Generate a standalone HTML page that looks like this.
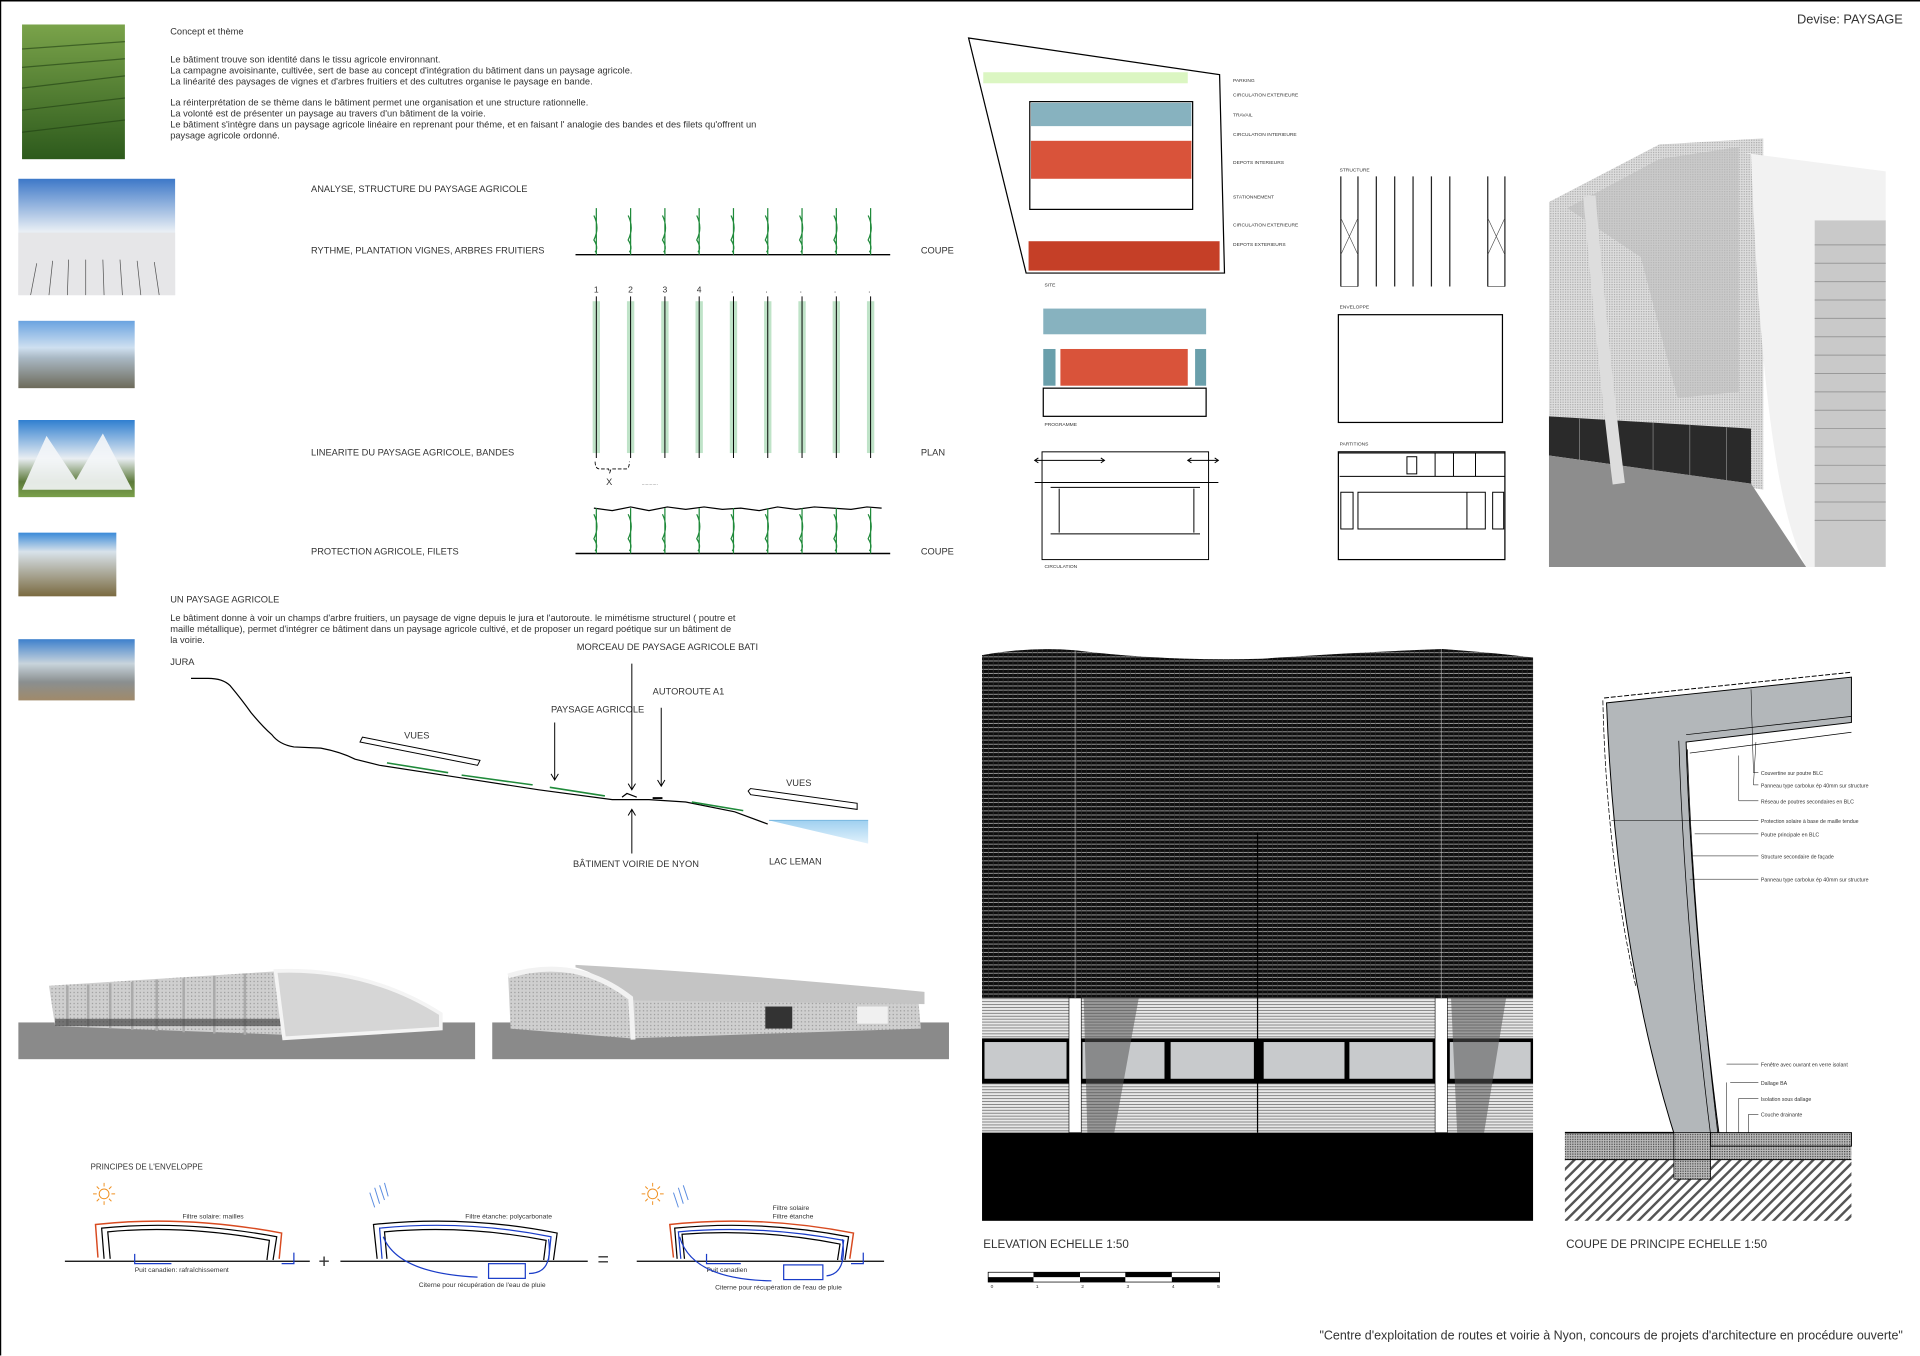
<!DOCTYPE html>
<html><head><meta charset="utf-8"><style>
html,body{margin:0;padding:0;background:#fff;}
svg{display:block;}
text{font-family:"Liberation Sans",sans-serif;fill:#333;}
</style></head><body>
<svg width="1920" height="1356" viewBox="0 0 1568 1107.4" preserveAspectRatio="none" xmlns="http://www.w3.org/2000/svg">
<defs>
<linearGradient id="sky" x1="0" y1="0" x2="0" y2="1"><stop offset="0" stop-color="#3d78c8"/><stop offset="0.45" stop-color="#e8eef4"/><stop offset="1" stop-color="#c9ccd0"/></linearGradient>
<linearGradient id="vine" x1="0" y1="0" x2="0" y2="1"><stop offset="0" stop-color="#7aa34a"/><stop offset="1" stop-color="#2d5a1c"/></linearGradient>
<linearGradient id="sky2" x1="0" y1="0" x2="0" y2="1"><stop offset="0" stop-color="#6aa3e0"/><stop offset="0.4" stop-color="#cfe0f0"/><stop offset="0.55" stop-color="#a9b8c4"/><stop offset="1" stop-color="#6d6a5a"/></linearGradient>
<linearGradient id="sky3" x1="0" y1="0" x2="0" y2="1"><stop offset="0" stop-color="#2f7fd0"/><stop offset="0.5" stop-color="#e9eef2"/><stop offset="0.8" stop-color="#5c7a3a"/><stop offset="1" stop-color="#7aa04a"/></linearGradient>
<linearGradient id="sky4" x1="0" y1="0" x2="0" y2="1"><stop offset="0" stop-color="#3a8ad8"/><stop offset="0.3" stop-color="#d8e2ea"/><stop offset="1" stop-color="#7a6a40"/></linearGradient>
<linearGradient id="sky5" x1="0" y1="0" x2="0" y2="1"><stop offset="0" stop-color="#3d80cc"/><stop offset="0.4" stop-color="#c8d4dc"/><stop offset="0.7" stop-color="#8a8f90"/><stop offset="1" stop-color="#a08a6a"/></linearGradient>
<linearGradient id="lake" x1="0" y1="0" x2="0" y2="1"><stop offset="0" stop-color="#9fd0f0"/><stop offset="1" stop-color="#e2f2fc"/></linearGradient>
<pattern id="mesh" width="4" height="3.4" patternUnits="userSpaceOnUse"><rect width="4" height="3.4" fill="#0c0c0c"/><rect y="2.2" width="4" height="0.8" fill="#999"/><rect x="3" width="0.5" height="3.4" fill="#333"/></pattern>
<pattern id="clad" width="4" height="2.4" patternUnits="userSpaceOnUse"><rect width="4" height="2.4" fill="#e8e8e8"/><rect y="1.6" width="4" height="0.6" fill="#666"/></pattern>
<pattern id="hatch" width="6" height="6" patternUnits="userSpaceOnUse" patternTransform="rotate(45)"><rect width="6" height="6" fill="#fff"/><rect width="2" height="6" fill="#555"/></pattern>
<pattern id="dots" width="2" height="2" patternUnits="userSpaceOnUse"><rect width="2" height="2" fill="#bbb"/><rect width="1" height="1" fill="#444"/></pattern>
<pattern id="render" width="3" height="3" patternUnits="userSpaceOnUse"><rect width="3" height="3" fill="#cfcfcf"/><rect width="1" height="1" fill="#999"/></pattern>
<pattern id="render2" width="2" height="2" patternUnits="userSpaceOnUse"><rect width="2" height="2" fill="#dedede"/><rect width="1" height="1" fill="#aaa"/></pattern>
</defs>

<line x1="0" y1="0.5" x2="1568" y2="0.5" stroke="#000" stroke-width="1.5"/>
<line x1="0.5" y1="0" x2="0.5" y2="1107" stroke="#000" stroke-width="1"/>

<!-- photos -->
<rect x="18" y="20" width="84" height="110" fill="url(#vine)"/>
<g stroke="#1f3f12" stroke-width="1" opacity="0.6"><path d="M18 40 L102 34 M18 55 L102 48 M18 72 L102 62 M18 90 L102 80 M18 108 L102 98"/></g>
<rect x="15" y="146" width="128" height="95" fill="url(#sky)"/>
<rect x="15" y="190" width="128" height="51" fill="#e6e6e8"/>
<g stroke="#555" stroke-width="0.6"><path d="M25 241 L30 215 M40 241 L43 213 M55 241 L56 212 M70 241 L70 212 M85 241 L84 212 M100 241 L98 212 M115 241 L112 213 M130 241 L126 214"/></g>
<rect x="15" y="262" width="95" height="55" fill="url(#sky2)"/>
<rect x="15" y="343" width="95" height="63" fill="url(#sky3)"/>
<path d="M18 400 L38 356 L62 392 L84 354 L108 400 Z" fill="#f4f6f8" opacity="0.9"/>
<rect x="15" y="435" width="80" height="52" fill="url(#sky4)"/>
<rect x="15" y="522" width="95" height="50" fill="url(#sky5)"/>

<g font-size="7.6">
<text x="139" y="28">Concept et thème</text>
<text x="139" y="51">Le bâtiment trouve son identité dans le tissu agricole environnant.</text>
<text x="139" y="60">La campagne avoisinante, cultivée, sert de base au concept d'intégration du bâtiment dans un paysage agricole.</text>
<text x="139" y="69">La linéarité des paysages de vignes et d'arbres fruitiers et des cultutres organise le paysage en bande.</text>
<text x="139" y="86">La réinterprétation de se thème dans le bâtiment permet une organisation et une structure rationnelle.</text>
<text x="139" y="95">La volonté est de présenter un paysage au travers d'un bâtiment de la voirie.</text>
<text x="139" y="104">Le bâtiment s'intègre dans un paysage agricole linéaire en reprenant pour théme, et en faisant l' analogie des bandes et des filets qu'offrent un</text>
<text x="139" y="113">paysage agricole ordonné.</text>
<text x="254" y="157">ANALYSE, STRUCTURE DU PAYSAGE AGRICOLE</text>
<text x="254" y="207">RYTHME, PLANTATION VIGNES, ARBRES FRUITIERS</text>
<text x="254" y="372">LINEARITE DU PAYSAGE AGRICOLE, BANDES</text>
<text x="254" y="453">PROTECTION AGRICOLE, FILETS</text>
<text x="752" y="207">COUPE</text>
<text x="752" y="372">PLAN</text>
<text x="752" y="453">COUPE</text>
<text x="139" y="492">UN PAYSAGE AGRICOLE</text>
<text x="139" y="507">Le bâtiment donne à voir un champs d'arbre fruitiers, un paysage de vigne depuis le jura et l'autoroute. le mimétisme structurel ( poutre et</text>
<text x="139" y="516">maille métallique), permet d'intégrer ce bâtiment dans un paysage agricole cultivé, et de proposer un regard poétique sur un bâtiment de</text>
<text x="139" y="525">la voirie.</text>
<text x="139" y="543">JURA</text>
<text x="471" y="531">MORCEAU DE PAYSAGE AGRICOLE BATI</text>
<text x="533" y="567">AUTOROUTE   A1</text>
<text x="450" y="582">PAYSAGE AGRICOLE</text>
<text x="330" y="603">VUES</text>
<text x="642" y="642">VUES</text>
<text x="468" y="708">BÂTIMENT  VOIRIE DE NYON</text>
<text x="628" y="706">LAC LEMAN</text>
</g>

<line x1="470" y1="208" x2="727" y2="208" stroke="#000" stroke-width="1.2"/>
<g stroke="#1f8a3a" stroke-width="1" fill="none">
<path id="p" d="M487 170 L487 208 M485 176 Q490 186 485 196 Q489 202 486 206"/>
<use href="#p" x="28"/><use href="#p" x="56"/><use href="#p" x="84"/><use href="#p" x="112"/><use href="#p" x="140"/><use href="#p" x="168"/><use href="#p" x="196"/><use href="#p" x="224"/>
</g>
<g font-size="7" fill="#555"><text x="485" y="239">1</text><text x="513" y="239">2</text><text x="541" y="239">3</text><text x="569" y="239">4</text>
<text x="597" y="239">.</text><text x="625" y="239">.</text><text x="653" y="239">.</text><text x="681" y="239">.</text><text x="709" y="239">.</text></g>
<g>
<g fill="#bfe3c8"><rect x="484" y="246" width="6" height="124"/><rect x="512" y="246" width="6" height="124"/><rect x="540" y="246" width="6" height="124"/><rect x="568" y="246" width="6" height="124"/><rect x="596" y="246" width="6" height="124"/><rect x="624" y="246" width="6" height="124"/><rect x="652" y="246" width="6" height="124"/><rect x="680" y="246" width="6" height="124"/><rect x="708" y="246" width="6" height="124"/></g>
<g stroke="#000" stroke-width="0.8"><path d="M487 242V374 M515 242V374 M543 242V374 M571 242V374 M599 242V374 M627 242V374 M655 242V374 M683 242V374 M711 242V374"/></g>
<path d="M486 377 Q486 383 490 383 L497 383 L498 386 L499 383 L511 383 Q514 383 514 377" stroke="#000" fill="none" stroke-width="0.7" stroke-dasharray="3 1.5"/>
<text x="495" y="396" font-size="7.5">X</text><text x="524" y="396" font-size="4">............</text>
</g>
<line x1="470" y1="452" x2="727" y2="452" stroke="#000" stroke-width="1.2"/>
<path d="M485 415 L500 417 L515 414 L530 417 L545 414 L560 416 L575 414 L590 416 L605 415 L620 417 L635 414 L650 416 L665 414 L680 415 L695 416 L708 414 L720 415" stroke="#000" fill="none"/>
<g stroke="#1f8a3a" stroke-width="1" fill="none">
<path id="q" d="M487 415 L487 452 M485 420 Q490 430 485 440 Q489 446 486 450"/>
<use href="#q" x="28"/><use href="#q" x="56"/><use href="#q" x="84"/><use href="#q" x="112"/><use href="#q" x="140"/><use href="#q" x="168"/><use href="#q" x="196"/><use href="#q" x="224"/>
</g>

<path d="M156 554 L170 554 Q182 554 188 560 Q198 572 205 582 Q215 594 222 600 Q228 608 240 610 L262 611 Q278 614 290 620 L310 625 L375 635 L440 645 L500 653 L530 653 L560 655 L600 663 L627 673" stroke="#000" fill="none" stroke-width="1"/>
<path d="M628 670 L709 670 L709 689 Z" fill="url(#lake)"/><line x1="628" y1="670" x2="709" y2="670" stroke="#7ab8e0" stroke-width="0.8"/>
<g stroke="#1f8a3a" stroke-width="1.3"><path d="M316 623 L366 631 M377 633 L435 641 M449 643 L494 650 M565 655 L607 662"/></g>
<path d="M508 651 L512 648 L520 651" stroke="#000" fill="none"/><rect x="533" y="651" width="8" height="1.5" fill="#000"/>
<g stroke="#000" stroke-width="0.8" fill="none">
<path d="M296 602 L392 621 L390 625 L294 606 Z"/>
<path d="M613 644 L700 656 L700 661 L613 649 L611 646 Z"/>
<path d="M516 542 V645 M513 640 L516 645 L519 640"/>
<path d="M540 578 V642 M537 637 L540 642 L543 637"/>
<path d="M453 590 V637 M450 632 L453 637 L456 632"/>
<path d="M516 697 V661 M513 666 L516 661 L519 666"/>
</g>

<!-- building renders -->
<rect x="15" y="835" width="373" height="30" fill="#8a8a8a"/>
<path d="M40 805 L230 793 L232 845 L45 838 Z" fill="url(#render)"/>
<g stroke="#aaa" stroke-width="2"><path d="M55 805 V838 M72 804 V839 M90 803 V840 M108 802 V841 M128 800 V842 M150 799 V843 M175 797 V844 M200 795 V845"/></g>
<rect x="45" y="832" width="185" height="6" fill="#333" opacity="0.6"/>
<path d="M225 793 Q300 790 360 828 L360 840 L232 848 Z" fill="#d6d6d6" stroke="#f4f4f4" stroke-width="3"/>
<rect x="402" y="835" width="373" height="30" fill="#8a8a8a"/>
<path d="M415 797 Q470 782 515 817 L750 817 L752 840 L515 848 L417 840 Z" fill="url(#render)"/>
<path d="M470 788 Q600 795 755 810 L755 820 L515 817 Q490 795 470 790 Z" fill="#c4c4c4"/>
<path d="M415 797 Q470 780 515 815 L517 849" stroke="#f2f2f2" stroke-width="4" fill="none"/>
<rect x="625" y="822" width="22" height="18" fill="#333"/><rect x="700" y="822" width="25" height="14" fill="#f0f0f0"/>

<!-- principes -->
<text x="74" y="955" font-size="6.5">PRINCIPES DE L'ENVELOPPE</text>
<g font-size="5.5" fill="#222">
<text x="149" y="995">Filtre solaire:  mailles</text>
<text x="110" y="1039">Puit canadien: rafraîchissement</text>
<text x="380" y="995">Filtre étanche: polycarbonate</text>
<text x="342" y="1051">Citerne pour récupération de l'eau de pluie</text>
<text x="631" y="988">Filtre solaire</text><text x="631" y="995">Filtre étanche</text>
<text x="577" y="1039">Puit canadien</text>
<text x="584" y="1053">Citerne pour récupération de l'eau de pluie</text>
</g>
<g font-size="16" fill="#444"><text x="260" y="1035">+</text><text x="488" y="1034">=</text></g>
<g fill="none" stroke-width="1">
<line x1="53" y1="1030" x2="253" y2="1030" stroke="#000"/>
<path d="M80 1027 L78 1000 Q150 992 230 1007 L228 1028" stroke="#d84a20" stroke-width="1.2"/>
<path d="M85 1028 L83 1003 Q150 996 226 1010 L223 1029 M90 1028 L88 1006 Q150 1000 220 1013 L218 1029" stroke="#000"/>
<path d="M110 1024 L110 1032 L140 1032 M230 1032 L240 1032 L240 1023" stroke="#1a3cc8"/>
<line x1="278" y1="1030" x2="480" y2="1030" stroke="#000"/>
<path d="M308 1028 L305 1000 Q380 992 455 1007 L452 1029" stroke="#000"/>
<path d="M312 1028 L310 1003 Q380 996 450 1010 L448 1029" stroke="#1a3cc8"/>
<path d="M316 1028 L314 1006 Q380 1000 446 1013 L444 1029" stroke="#000"/>
<path d="M313 1010 Q325 1040 390 1043 M448 1012 Q452 1040 432 1040" stroke="#1a3cc8"/>
<rect x="399" y="1032" width="30" height="12" stroke="#1a3cc8"/>
<line x1="520" y1="1030" x2="722" y2="1030" stroke="#000"/>
<path d="M550 1027 L547 1000 Q620 992 697 1007 L694 1028" stroke="#d84a20" stroke-width="1.2"/>
<path d="M553 1028 L551 1003 Q620 996 693 1010 L690 1029" stroke="#000"/>
<path d="M556 1028 L554 1006 Q620 1000 689 1013 L687 1029" stroke="#1a3cc8"/>
<path d="M559 1028 L557 1008 Q620 1003 686 1016 L684 1029" stroke="#000"/>
<path d="M555 1010 Q565 1045 630 1046 M688 1012 Q692 1040 675 1042" stroke="#1a3cc8"/>
<rect x="640" y="1033" width="32" height="12" stroke="#1a3cc8"/>
<path d="M577 1024 L577 1032 L605 1032 M695 1032 L705 1032 L705 1023" stroke="#1a3cc8"/>
</g>
<g stroke="#f09020" stroke-width="0.8"><circle cx="85" cy="975" r="4" fill="none"/><path d="M85 966V969 M85 981V984 M76 975H79 M91 975H94 M79 969L81 971 M89 979L91 981 M79 981L81 979 M89 971L91 969"/>
<circle cx="533" cy="975" r="4" fill="none"/><path d="M533 966V969 M533 981V984 M524 975H527 M539 975H542 M527 969L529 971 M537 979L539 981 M527 981L529 979 M537 971L539 969"/></g>
<g stroke="#5a8ce0" stroke-width="0.8"><path d="M302 974 L306 986 M306 970 L310 983 M310 968 L314 980 M314 966 L317 977 M550 974 L554 986 M554 970 L558 983 M558 968 L562 980"/></g>

<text x="1554" y="19" font-size="10.5" text-anchor="end" fill="#444">Devise: PAYSAGE</text>

<!-- site diagram -->
<path d="M791 31 L996 61 L1000 223 L838 223 Z" fill="#fff" stroke="#000" stroke-width="1"/>
<rect x="803" y="59" width="167" height="9" fill="#dbf6c2"/>
<rect x="841" y="83" width="133" height="88" fill="#fff" stroke="#000" stroke-width="1"/>
<rect x="842" y="84" width="131" height="19" fill="#87b2bf"/>
<rect x="842" y="115" width="131" height="31" fill="#d9533a"/>
<rect x="840" y="197" width="156" height="24" fill="#c53f27"/>
<g font-size="4" fill="#444">
<text x="1007" y="67">PARKING</text><text x="1007" y="79">CIRCULATION EXTERIEURE</text><text x="1007" y="95">TRAVAIL</text><text x="1007" y="111">CIRCULATION INTERIEURE</text><text x="1007" y="134">DEPOTS INTERIEURS</text><text x="1007" y="162">STATIONNEMENT</text><text x="1007" y="185">CIRCULATION EXTERIEURE</text><text x="1007" y="201">DEPOTS EXTERIEURS</text>
<text x="853" y="234">SITE</text><text x="853" y="348">PROGRAMME</text><text x="853" y="464">CIRCULATION</text>
<text x="1094" y="140">STRUCTURE</text><text x="1094" y="252">ENVELOPPE</text><text x="1094" y="364">PARTITIONS</text>
</g>
<rect x="852" y="252" width="133" height="21" fill="#87b2bf"/>
<rect x="852" y="285" width="10" height="30" fill="#6a9fab"/>
<rect x="866" y="285" width="104" height="30" fill="#d9533a"/>
<rect x="976" y="285" width="9" height="30" fill="#6a9fab"/>
<rect x="852" y="317" width="133" height="23" fill="#fff" stroke="#000"/>
<rect x="851" y="369" width="136" height="88" fill="#fff" stroke="#000" stroke-width="0.8"/>
<g stroke="#000" stroke-width="0.8" fill="none">
<path d="M845 376 H902 M970 376 H995 M845 394 H995 M858 398 H980 M858 436 H980 M865 399 V435 M975 399 V435"/>
<path d="M848 374 L845 376 L848 378 M899 374 L902 376 L899 378 M973 374 L970 376 L973 378 M992 374 L995 376 L992 378"/>
</g>
<g stroke="#222" stroke-width="1"><path d="M1095 144 V234 M1109 144 V234 M1124 144 V234 M1139 144 V234 M1154 144 V234 M1169 144 V234 M1184 144 V234 M1215 144 V234 M1229 144 V234"/></g>
<g stroke="#444" stroke-width="0.5"><path d="M1095 178 L1109 208 M1109 178 L1095 208 M1215 178 L1229 208 M1229 178 L1215 208 M1095 234 H1109 M1215 234 H1229"/></g>
<rect x="1093" y="257" width="134" height="88" fill="#fff" stroke="#000" stroke-width="1"/>
<rect x="1093" y="369" width="136" height="88" fill="#fff" stroke="#000" stroke-width="1"/>
<g stroke="#000" stroke-width="0.8" fill="none">
<path d="M1093 370 H1229 M1094 389 H1229 M1172 370 V389 M1187 370 V389 M1205 370 V389"/>
<rect x="1149" y="373" width="8" height="14"/>
<rect x="1095" y="402" width="10" height="30"/><rect x="1109" y="402" width="104" height="30"/><path d="M1198 402 V432"/><rect x="1219" y="402" width="9" height="30"/>
</g>

<!-- render photo -->
<rect x="1265" y="113" width="275" height="350" fill="#fff"/>
<path d="M1265 165 L1355 118 L1440 113 L1440 400 L1265 370 Z" fill="url(#render2)"/>
<path d="M1280 170 L1355 130 L1420 120 L1420 320 L1370 325 L1340 210 Z" fill="#bdbdbd" opacity="0.6"/>
<path d="M1425 125 L1540 140 L1540 463 L1475 463 Q1440 400 1430 125 Z" fill="#f2f2f2"/>
<rect x="1482" y="180" width="58" height="283" fill="#c9c9c9"/>
<g stroke="#999" stroke-width="0.8"><path d="M1482 200H1540 M1482 215H1540 M1482 230H1540 M1482 245H1540 M1482 260H1540 M1482 275H1540 M1482 290H1540 M1482 305H1540 M1482 320H1540 M1482 335H1540 M1482 350H1540 M1482 365H1540 M1482 380H1540 M1482 395H1540 M1482 410H1540 M1482 425H1540"/></g>
<path d="M1265 340 L1430 350 L1430 395 L1265 372 Z" fill="#2a2a2a"/>
<g stroke="#888" stroke-width="0.6"><path d="M1290 342 V376 M1320 344 V380 M1350 345 V384 M1380 347 V388 M1410 349 V392"/></g>
<path d="M1265 372 L1430 395 L1475 463 L1265 463 Z" fill="#8d8d8d"/>
<path d="M1298 160 Q1310 300 1322 395" stroke="#ddd" stroke-width="10" fill="none"/>

<!-- elevation -->
<path d="M802 535 Q840 528 878 531 Q950 540 1030 538 Q1100 533 1178 530 Q1220 533 1252 537 L1252 815 L802 815 Z" fill="url(#mesh)"/>
<rect x="802" y="815" width="450" height="33" fill="url(#clad)"/>
<rect x="802" y="848" width="450" height="37" fill="#000"/>
<g fill="#c8cacc"><rect x="804" y="851" width="67" height="30"/><rect x="884" y="851" width="67" height="30"/><rect x="956" y="851" width="68" height="30"/><rect x="1032" y="851" width="66" height="30"/><rect x="1102" y="851" width="68" height="30"/><rect x="1184" y="851" width="66" height="30"/></g>
<rect x="802" y="885" width="450" height="40" fill="url(#clad)"/>
<rect x="802" y="925" width="450" height="72" fill="#000"/>
<path d="M885 815 L930 815 L910 925 L888 925 Z" fill="#555" opacity="0.55"/>
<path d="M1185 815 L1230 815 L1212 925 L1190 925 Z" fill="#555" opacity="0.55"/>
<rect x="873" y="815" width="10" height="110" fill="#fff" stroke="#000" stroke-width="0.5"/>
<rect x="1172" y="815" width="10" height="110" fill="#fff" stroke="#000" stroke-width="0.5"/>
<line x1="878" y1="531" x2="878" y2="815" stroke="#aaa" stroke-width="0.6"/>
<line x1="1177" y1="530" x2="1177" y2="815" stroke="#aaa" stroke-width="0.6"/>
<line x1="1027" y1="680" x2="1027" y2="925" stroke="#000" stroke-width="1"/>
<text x="803" y="1019" font-size="9.5" fill="#222">ELEVATION ECHELLE 1:50</text>
<g>
<rect x="807" y="1039" width="189" height="8" fill="#fff" stroke="#000" stroke-width="0.6"/>
<rect x="807" y="1043" width="37" height="4" fill="#000"/>
<rect x="844" y="1039" width="38" height="4" fill="#000"/><rect x="882" y="1043" width="37" height="4" fill="#000"/><rect x="919" y="1039" width="38" height="4" fill="#000"/><rect x="957" y="1043" width="39" height="4" fill="#000"/>
<g font-size="4" fill="#444"><text x="809" y="1052">0</text><text x="846" y="1052">1</text><text x="883" y="1052">2</text><text x="920" y="1052">3</text><text x="957" y="1052">4</text><text x="994" y="1052">5</text></g>
</g>

<!-- coupe de principe -->
<path d="M1312 574 L1512 553 L1512 590 L1377 606 Q1382 760 1405 935 L1370 935 Q1320 780 1312 574 Z" fill="#b3b7ba" stroke="#000" stroke-width="0.8"/>
<path d="M1310 570 L1512 549" stroke="#000" stroke-dasharray="4 1.5" stroke-width="0.8"/>
<path d="M1309 572 Q1312 700 1336 806" stroke="#000" stroke-dasharray="4 1.5" stroke-width="0.6" fill="none"/>
<path d="M1377 600 L1512 585 M1380 615 L1512 598" stroke="#000" stroke-width="0.6"/>
<path d="M1371 605 Q1376 760 1398 935 M1378 612 Q1383 760 1404 935" stroke="#000" stroke-width="0.6" fill="none"/>
<g stroke="#000" stroke-width="0.4">
<path d="M1432 631 H1436 M1432 641 H1436 M1420 654 H1436 M1316 670 H1436 M1384 681 H1436 M1382 699 H1436 M1380 718 H1436 M1410 869 H1436 M1413 884 H1436 M1420 897 H1436 M1428 910 H1436"/>
<path d="M1432 631 L1430 563 M1432 641 L1434 606 M1420 654 V617 M1410 884 V935 M1420 897 V935 M1428 910 V945"/>
</g>
<g font-size="4.3" fill="#333">
<text x="1438" y="633">Couvertine sur poutre BLC</text>
<text x="1438" y="643">Panneau  type carbolux ép 40mm sur structure</text>
<text x="1438" y="656">Réseau de poutres secondaires en BLC</text>
<text x="1438" y="672">Protection solaire à base de maille tendue</text>
<text x="1438" y="683">Poutre principale en BLC</text>
<text x="1438" y="701">Structure secondaire de façade</text>
<text x="1438" y="720">Panneau  type carbolux ép 40mm sur structure</text>
<text x="1438" y="871">Fenêtre avec ouvrant en verre isolant</text>
<text x="1438" y="886">Dallage BA</text>
<text x="1438" y="899">Isolation sous dallage</text>
<text x="1438" y="912">Couche drainante</text>
</g>
<rect x="1278" y="925" width="234" height="72" fill="url(#hatch)"/>
<rect x="1278" y="925" width="234" height="22" fill="url(#dots)"/>
<rect x="1367" y="925" width="30" height="38" fill="url(#dots)" stroke="#000" stroke-width="0.6"/>
<rect x="1397" y="925" width="115" height="11" fill="url(#dots)" stroke="#000" stroke-width="0.8"/>
<line x1="1278" y1="925" x2="1367" y2="925" stroke="#000" stroke-width="1.2"/>
<line x1="1278" y1="947" x2="1512" y2="947" stroke="#000" stroke-width="0.8"/>
<text x="1279" y="1019" font-size="9.5" fill="#222">COUPE DE PRINCIPE ECHELLE 1:50</text>

<text x="1554" y="1094" font-size="10.2" text-anchor="end" fill="#333">"Centre d'exploitation de routes et voirie à Nyon, concours de projets d'architecture en procédure ouverte"</text>
</svg>
</body></html>
